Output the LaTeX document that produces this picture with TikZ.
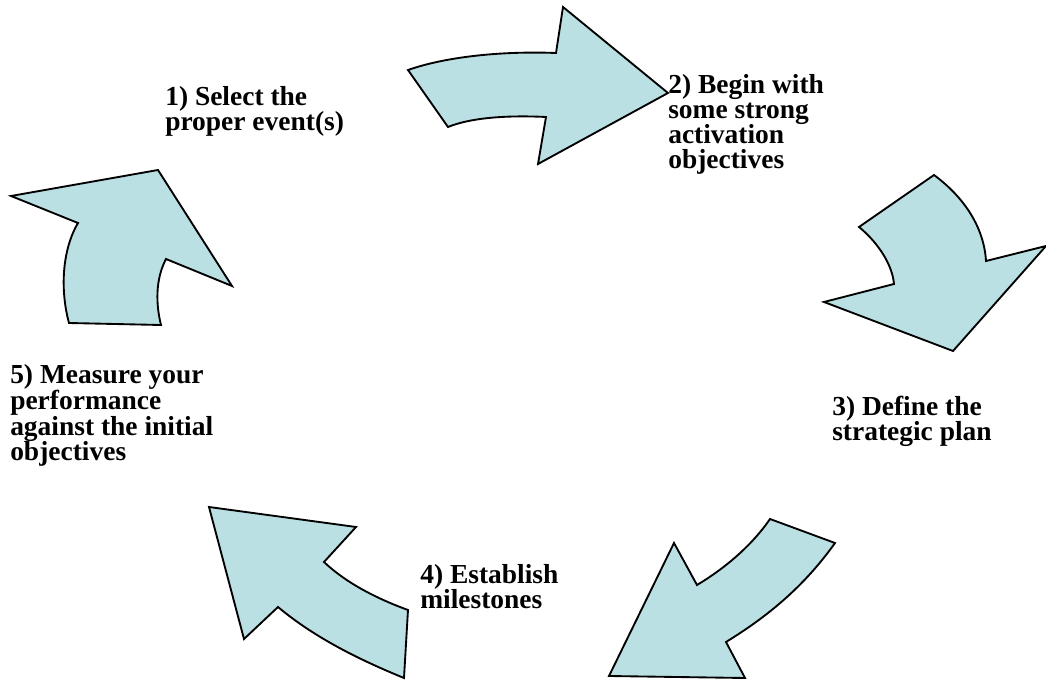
\documentclass[tikz,border=0pt]{standalone}
\usepackage{fontspec}
\newfontfamily\labfont{Liberation Serif}
\usepackage{tikz}

\definecolor{cyclefill}{RGB}{187,224,227}

\begin{document}
\begin{tikzpicture}[x=0.75pt, y=-0.75pt,
  flow/.style={draw=black, line width=1.4pt, fill=cyclefill},
  lab/.style={anchor=north west, inner sep=0pt, align=left,
    font=\labfont\bfseries\fontsize{20.6}{18.9}\selectfont}]
  \useasboundingbox (0,0) rectangle (1046,680);

  % the five curved arrows, clockwise from the top
  \draw[flow] (408,70) .. controls (448,56) and (505,51) .. (556,53)
    -- (563,7) -- (668,93) -- (538,164) -- (546,117)
    .. controls (505,115) and (470,118) .. (448,127) -- cycle;
  \draw[flow] (934,175) -- (859,227)
    .. controls (875,240) and (892,262) .. (894,284)
    -- (824,302) -- (953,351) -- (1046,246) -- (986,261)
    .. controls (984,228) and (965,198) .. (934,175) -- cycle;
  \draw[flow] (770,519) -- (835,543)
    .. controls (805,585) and (770,615) .. (726,642)
    -- (745,678) -- (609,676) -- (674,543) -- (697,585)
    .. controls (722,570) and (750,548) .. (770,519) -- cycle;
  \draw[flow] (209,507) -- (356,527) -- (324,562)
    .. controls (345,582) and (375,598) .. (408,610)
    -- (404,678) .. controls (360,660) and (315,638) .. (278,607)
    -- (244,639) -- cycle;
  \draw[flow] (11,196) -- (158,170) -- (232,286) -- (166,259)
    .. controls (155,280) and (156,305) .. (161,325)
    -- (69,323) .. controls (60,290) and (62,250) .. (78,223) -- cycle;

  % step labels
  \node[lab] (select) at (165,86) {1) Select the\\proper event(s)};
  \node[lab] (begin) at (668,74) {2) Begin with\\some strong\\activation\\objectives};
  \node[lab] (define) at (832,396) {3) Define the\\strategic plan};
  \node[lab] (mile) at (420,564) {4) Establish\\milestones};
  \node[lab] (measure) at (10,364) {5) Measure your\\performance\\against the initial\\objectives};
\end{tikzpicture}
\end{document}
